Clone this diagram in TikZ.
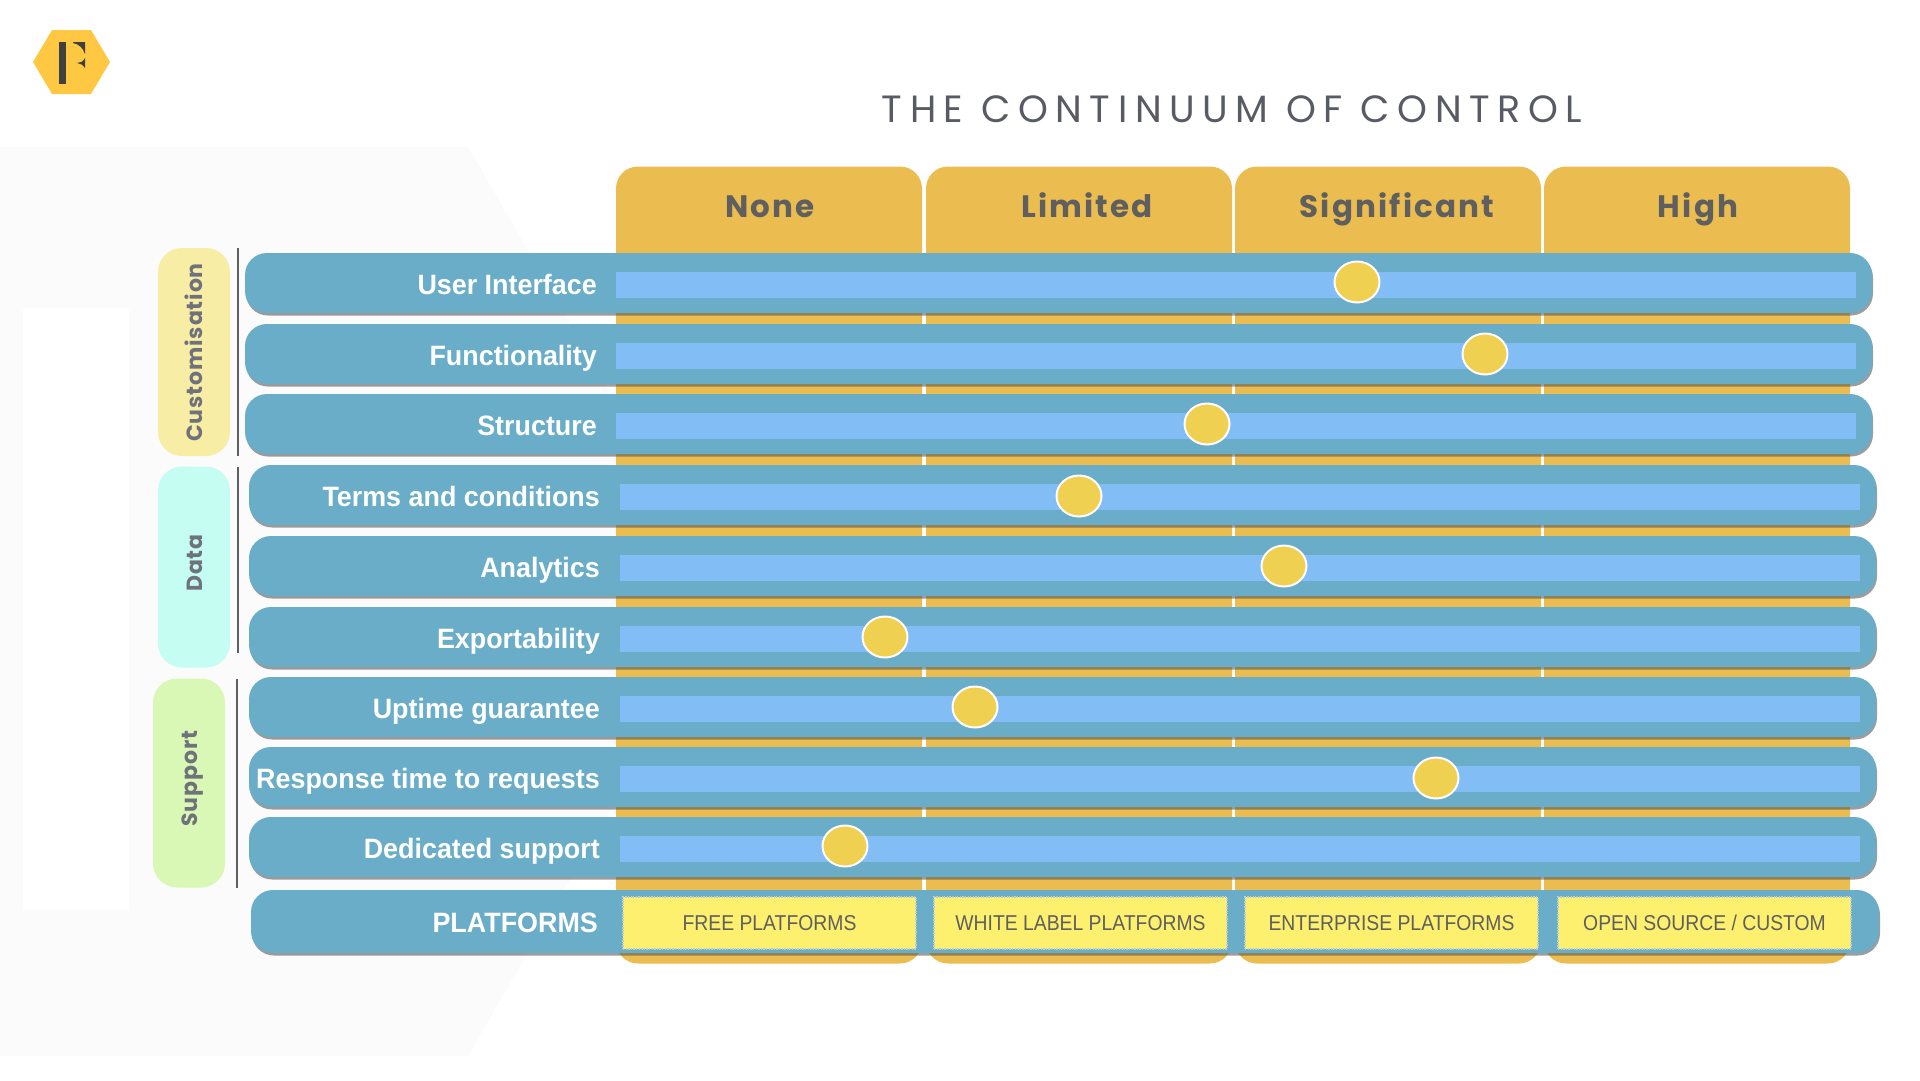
\documentclass[tikz,border=0pt]{standalone}
\usepackage{fontspec}
\usetikzlibrary{shadows,shapes.geometric}
\setmainfont{Liberation Sans}
\newfontfamily\headfont[LetterSpace=7]{Poppins}
\newfontfamily\pillfont[LetterSpace=4]{Poppins}
\newfontfamily\titlefont[LetterSpace=20]{Poppins}
\newfontfamily\platfont[FakeStretch=0.9]{Liberation Sans}
\newfontfamily\rowfont[FakeStretch=0.96]{Liberation Sans}
\definecolor{tabyellow}{HTML}{EBBD50}
\definecolor{rowblue}{HTML}{6AADC9}
\definecolor{barblue}{HTML}{82BEF5}
\definecolor{dotyellow}{HTML}{F0D050}
\definecolor{boxyellow}{HTML}{FDF06F}
\definecolor{inkgrey}{HTML}{5F5F5F}
\definecolor{titlegrey}{HTML}{595B64}
\definecolor{pillgrey}{HTML}{6F727A}
\definecolor{edgegrey}{HTML}{B9CDD6}
\definecolor{faint}{HTML}{FBFBFB}
\definecolor{logoyellow}{HTML}{FFC843}
\definecolor{custyellow}{HTML}{F8EDA5}
\definecolor{datacyan}{HTML}{C6FDF3}
\definecolor{supportgreen}{HTML}{D9F7B5}
\begin{document}
\begin{tikzpicture}
      [x=1pt,y=-1pt,inner sep=0pt,
       tabbox/.style={rectangle,fill=tabyellow,rounded corners=22pt,minimum width=306pt,minimum height=797pt},
       tabtext/.style={anchor=base,text=inkgrey,font=\headfont\bfseries\fontsize{31}{33}\selectfont},
       rowbox/.style={rectangle,fill=rowblue,rounded corners=22pt,minimum height=60pt,
         drop shadow={shadow xshift=1pt,shadow yshift=-2.5pt,opacity=.55,fill=black!70}},
       rowbar/.style={rectangle,fill=barblue,minimum height=26pt},
       rowtext/.style={anchor=base east,text=white,font=\rowfont\bfseries\fontsize{28}{30}\selectfont},
       dot/.style={ellipse,draw=white,line width=2pt,fill=dotyellow,minimum width=45pt,minimum height=41pt},
       pill/.style={rectangle,rounded corners=24pt,minimum width=72pt,minimum height=208pt},
       pilltext/.style={anchor=base,rotate=90,text=pillgrey,font=\pillfont\bfseries\fontsize{22}{24}\selectfont},
       divider/.style={draw=inkgrey,line width=1.5pt},
       platform/.style={rectangle,fill=boxyellow,draw=edgegrey,dash pattern=on 1.3pt off 1.3pt,line width=1.3pt,
         minimum width=293pt,minimum height=52pt,text=inkgrey,font=\platfont\fontsize{21.5}{24}\selectfont}]
      \useasboundingbox (0,0) rectangle (1920,1080);
      % backdrop
      \fill [faint] (0,147) -- (468,147) -- (732,601) -- (468,1056) -- (0,1056) -- cycle;
      \fill [white] (23,308) rectangle (129,910);
      % logo
      \fill [logoyellow] (33,62) -- (52,30) -- (91,30) -- (110,62) -- (91,94) -- (52,94) -- cycle;
      \fill [black!75] (59,42) rectangle (66,84);
      \fill [black!75] (73,42) -- (85,42) -- (85,54) .. controls (83,48) and (79,44) .. (73,43) -- cycle;
      \fill [black!75] (85,62) -- (85,68) .. controls (83,65) and (80,63) .. (77,63) .. controls (80,63) and (83,62) .. (85,58) -- cycle;
      \node at (1232,109) (title) [text=titlegrey,font=\titlefont\fontsize{38}{42}\selectfont] {THE CONTINUUM OF CONTROL};
      % columns
      \node at (769,565) (none) [tabbox] {};
      \node at (1079,565) (limited) [tabbox] {};
      \node at (1388,565) (significant) [tabbox] {};
      \node at (1697,565) (high) [tabbox] {};
      \node at (770,217.5) (nonetext) [tabtext] {None};
      \node at (1087,217.5) (limitedtext) [tabtext] {Limited};
      \node at (1397,217.5) (significanttext) [tabtext] {Significant};
      \node at (1698,217.5) (hightext) [tabtext] {High};
      % groups
      \node at (194,352) (customisation) [pill,fill=custyellow] {};
      \node at (194,567) (data) [pill,fill=datacyan,minimum height=201pt] {};
      \node at (189,783) (support) [pill,fill=supportgreen,minimum height=209pt] {};
      \node at (202,352.5) (customisationtext) [pilltext] {Customisation};
      \node at (202,563) (datatext) [pilltext] {Data};
      \node at (197,778.5) (supporttext) [pilltext] {Support};
      \coordinate (d1a) at (238,248); \coordinate (d1b) at (238,456);
      \coordinate (d2a) at (238,467); \coordinate (d2b) at (238,653);
      \coordinate (d3a) at (237,679); \coordinate (d3b) at (237,888);
      \foreach \d in {1,2,3}
         \draw [divider] (d\d a) -- (d\d b);
      % rows
      \foreach \name/\y/\cx/\w/\cb/\tx/\txt/\dx/\dy in {
         ui/283/1058.5/1627/1236/597/User Interface/1357/282,
         func/354/1058.5/1627/1236/597/Functionality/1485/354,
         struct/424/1058.5/1627/1236/597/Structure/1207/424,
         terms/495/1062.5/1627/1240/600/Terms and conditions/1079/496,
         analytics/566/1062.5/1627/1240/600/Analytics/1284/566,
         export/637/1062.5/1627/1240/600/Exportability/885/637,
         uptime/707/1062.5/1627/1240/600/Uptime guarantee/975/707,
         response/777/1062.5/1627/1240/600/Response time to requests/1436/778,
         dedicated/847/1062.5/1627/1240/600/Dedicated support/845/846}
      {
         \node at (\cx,\y) (\name) [rowbox,minimum width=\w pt] {};
         \node at (\cb,\y+1.5) (\name bar) [rowbar,minimum width=1240pt] {};
         \node at (\tx,\y+11) (\name text) [rowtext] {\txt};
         \node at (\dx,\dy) (\name dot) [dot] {};
      }
      % platforms
      \node at (1065,921.5) (platforms) [rowbox,minimum width=1628pt,minimum height=63pt] {};
      \node at (598,932.5) (platformstext) [rowtext] {PLATFORMS};
      \node at (769.5,923) (free) [platform] {FREE PLATFORMS};
      \node at (1080.5,923) (white) [platform] {WHITE LABEL PLATFORMS};
      \node at (1391.5,923) (enterprise) [platform] {ENTERPRISE PLATFORMS};
      \node at (1704.5,923) (custom) [platform] {OPEN SOURCE / CUSTOM};
    \end{tikzpicture}
\end{document}
